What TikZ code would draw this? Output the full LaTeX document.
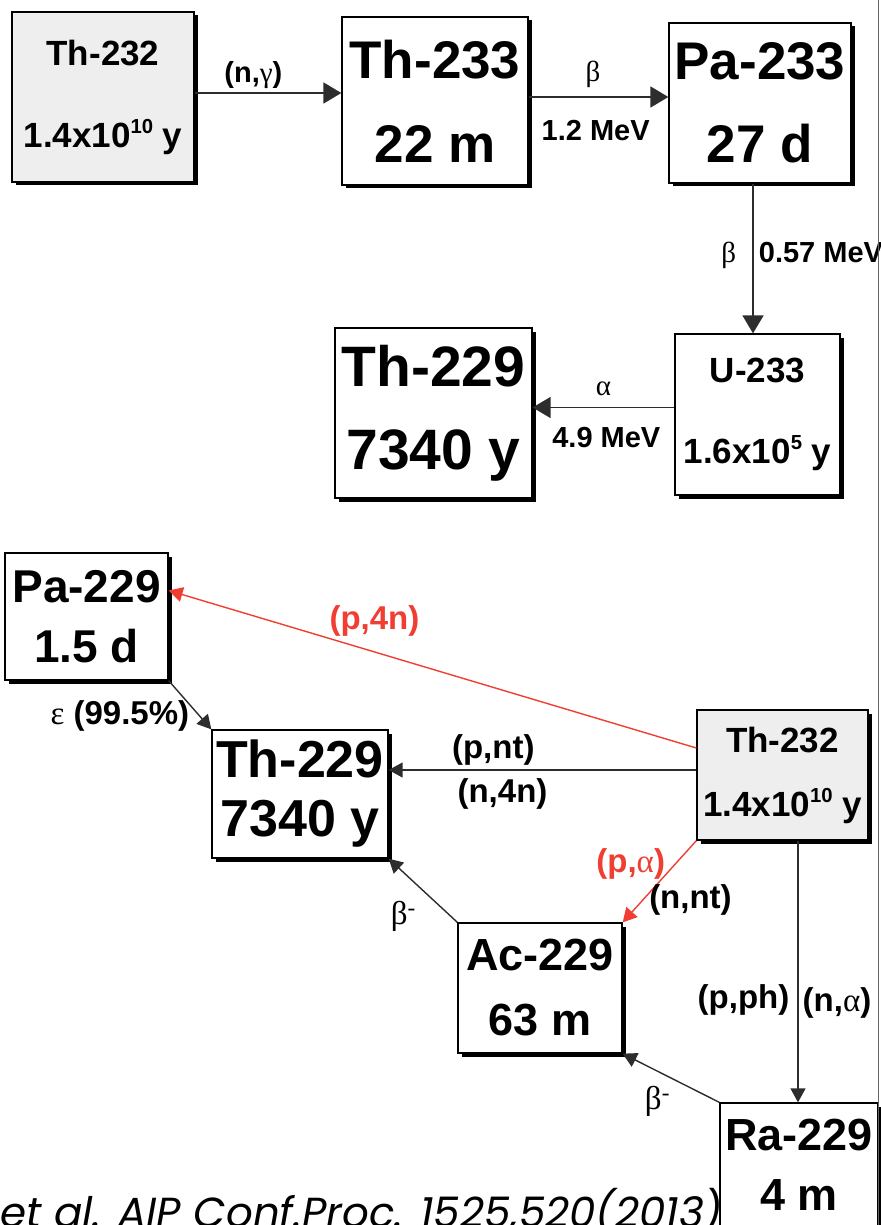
\documentclass[tikz,border=0pt]{standalone}
\usepackage{fontspec}
\usepackage{graphicx}
\setmainfont{Liberation Sans}
\newfontfamily\grk{Liberation Serif}
\newfontfamily\citefont{Poppins}
\usetikzlibrary{arrows.meta, shadows}

\definecolor{decayred}{RGB}{240,62,50}
\definecolor{linegray}{RGB}{45,45,45}
\definecolor{boxgray}{RGB}{238,238,238}

\newcommand{\nucfont}[2]{\fontsize{#1}{#2}\selectfont\bfseries}
\newcommand{\gk}[1]{{\grk\mdseries #1}}
\newcommand{\expo}[1]{\raisebox{0.4em}{\scalebox{0.58}{#1}}}

\begin{document}
\begin{tikzpicture}[
    x=1pt, y=-1pt,
    >={Triangle[length=18pt, width=21pt]},
    flow/.style={->, color=linegray, line width=1.8pt},
    thin flow/.style={flow, line width=1.4pt, >={Triangle[length=14pt, width=15pt]}},
    nuclide/.style={draw=black, line width=1.3pt, fill=white, align=center, inner sep=0pt,
        drop shadow={shadow xshift=3.5pt, shadow yshift=-3.5pt, fill=black, opacity=1}},
    parent/.style={nuclide, fill=boxgray},
    lab/.style={font=\fontsize{29}{31}\selectfont\bfseries, inner sep=2pt, text=black},
    blab/.style={lab, font=\fontsize{33}{35}\selectfont\bfseries},
    redlab/.style={blab, text=decayred}
]
    \useasboundingbox (0,0) rectangle (880,1225);

    % Nuclides: breeding chain
    \node[parent, font=\nucfont{35}{82}, minimum width=182pt, minimum height=170pt] (thA) at (103,97) {Th-232\\1.4x10\expo{10} y};
    \node[nuclide, font=\nucfont{53}{84}, minimum width=186pt, minimum height=168pt] (thB) at (435,101) {Th-233\\22 m};
    \node[nuclide, font=\nucfont{53}{83}, minimum width=182pt, minimum height=160pt] (paB) at (760,103) {Pa-233\\27 d};
    \node[nuclide, font=\nucfont{35}{81}, minimum width=165pt, minimum height=161pt] (uC) at (757.5,414.5) {U-233\\1.6x10\expo{5} y};
    \node[nuclide, font=\nucfont{57}{83}, minimum width=197pt, minimum height=170pt] (thC) at (433.5,413) {Th-229\\7340 y};

    % Nuclides: direct production
    \node[nuclide, font=\nucfont{46}{60}, minimum width=163pt, minimum height=127pt] (paD) at (86.5,616.5) {Pa-229\\1.5 d};
    \node[nuclide, font=\nucfont{52}{59}, minimum width=176pt, minimum height=128pt] (thD) at (300,794) {Th-229\\7340 y};
    \node[parent, font=\nucfont{35}{64}, minimum width=171pt, minimum height=130pt] (thE) at (782.5,775) {Th-232\\1.4x10\expo{10} y};
    \node[nuclide, font=\nucfont{45}{65}, minimum width=164pt, minimum height=130pt] (acF) at (540,988) {Ac-229\\63 m};
    \node[nuclide, font=\nucfont{45}{60}, minimum width=158pt, minimum height=124pt] (raG) at (799,1165) {Ra-229\\4 m};

    % Transitions: breeding chain
    \path[flow] ([yshift=4pt]thA.east) edge node[lab, above=1pt, pos=0.4] {(n,\gk{γ})} ([yshift=4pt]thA.east -| thB.west);
    \path[flow] ([yshift=4pt]thB.east) edge node[lab, above=6pt, pos=0.46] {\gk{β}}
                                              node[lab, below=20pt, pos=0.48] {1.2 MeV} ([yshift=4pt]thB.east -| paB.west);
    \path[flow] ([xshift=-7pt]paB.south) edge node[lab, left=14pt, pos=0.48] {\gk{β}}
                                               node[lab, right=3pt, pos=0.46] {0.57 MeV} ([xshift=-7pt]paB.south |- uC.north);
    \path[flow] ([yshift=7pt]uC.west) edge node[lab, above=9pt, pos=0.5] {\gk{α}}
                                           node[lab, below=17pt, pos=0.48] {4.9 MeV} ([yshift=7pt]uC.west -| thC.east);

    % Transitions: direct production
    \path[thin flow] (paD.south east) edge node[blab, left=8pt, pos=0.73] {\gk{ε} (99.5\%)} (thD.north west);
    \path[thin flow, color=decayred] ([yshift=27pt]thE.west) edge node[redlab, above=13pt, pos=0.61] {(p,4n)} ([yshift=26pt]paD.east);
    \path[thin flow] ([yshift=5pt]thE.west) edge node[blab, above=2pt, pos=0.66] {(p,nt)}
                                                 node[blab, below=6pt, pos=0.63] {(n,4n)} ([yshift=5pt]thE.west -| thD.east);
    \path[thin flow, color=decayred] (thE.south west) edge node[redlab, left=8pt, pos=0.28] {(p,\gk{α})}
                                                          node[blab, right=4pt, pos=0.73] {(n,nt)} (acF.north east);
    \path[thin flow] (acF.north west) edge node[blab, left=32pt, pos=0.1] {\gk{β\textsuperscript{-}}} (thD.south east);
    \path[thin flow] ([xshift=15.5pt]thE.south) edge node[blab, left=6pt, pos=0.61] {(p,ph)}
                                                     node[blab, right=2pt, pos=0.62] {(n,\gk{α})} ([xshift=15.5pt]thE.south |- raG.north);
    \path[thin flow] (raG.north west) edge node[blab, below=12pt, pos=0.64] {\gk{β\textsuperscript{-}}} (acF.south east);

    % Slide edge and reference
    \draw[line width=1pt, draw=gray!80!black] (878,0) -- (878,1225);
    \node[anchor=base west, inner sep=0pt, font=\citefont\fontsize{42}{44}\selectfont\itshape] (cite) at (0,1227) {et al. AIP Conf.Proc. 1525,520(2013)};

\end{tikzpicture}
\end{document}
